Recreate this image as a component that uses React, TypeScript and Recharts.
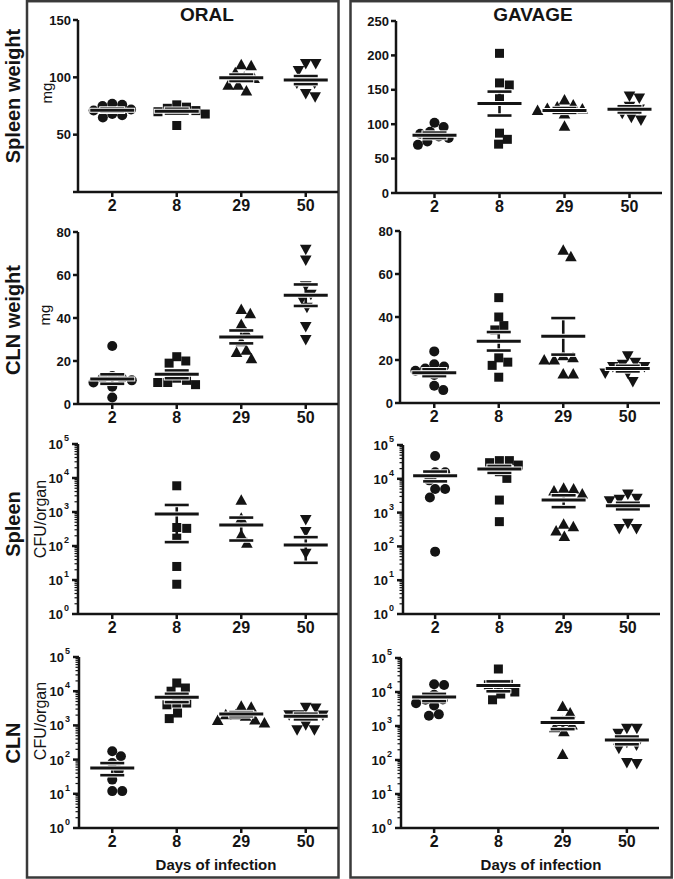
import React from 'react';
import { ScatterChart, Scatter, XAxis, YAxis } from 'recharts';

const days = ['2', '8', '29', '50'];

// organ weights, mg (one list per day of infection)
const spleenWtOral = [
  [76, 75, 77, 72, 71, 67, 65, 68],
  [74, 71, 73, 76, 68, 70, 58],
  [111, 110, 104, 100, 99, 93, 93, 88],
  [112, 112, 106, 99, 95, 95, 86, 83],
];
const spleenWtOralMean = [71.4, 70.5, 99.6, 97.6];
const spleenWtOralSem = [1.4, 2.1, 2.8, 3.5];

const spleenWtGavage = [
  [96, 102, 89, 86, 82, 80, 75, 70],
  [203, 160, 157, 137, 87, 78, 71],
  [135, 128, 125, 123, 122, 120, 115, 97],
  [138, 141, 126, 122, 116, 110, 106],
];
const spleenWtGavageMean = [83.8, 130, 120, 121.6];
const spleenWtGavageSem = [4, 17.4, 3.5, 4.5];

const clnWtOral = [
  [27, 13, 12, 12, 11, 10, 8, 3],
  [22, 20, 19, 12, 11, 10, 10, 9],
  [44, 42, 37, 33, 29, 25, 24, 21],
  [72, 67, 55, 51, 49, 45, 36, 30],
];
const clnWtOralMean = [11.6, 13.8, 31.2, 50.6];
const clnWtOralSem = [2.2, 1.8, 3, 5];

const clnWtGavage = [
  [24, 18, 17, 16, 15, 13, 8, 6],
  [49, 40, 36, 34, 21, 19, 17.5, 12],
  [68, 71, 22, 20, 20, 21, 13.5, 13.5],
  [22, 19, 18, 17, 17, 14, 14, 10],
];
const clnWtGavageMean = [14.1, 28.7, 31, 16];
const clnWtGavageSem = [1.6, 4.3, 8.5, 1.3];

// CFU per organ
const spleenCfuOral = [
  [],
  [5900, 350, 330, 170, 25, 7.5],
  [2200, 650, 210, 120],
  [600, 265, 61],
];
const spleenCfuOralMean = [null, 870, 415, 107];
const spleenCfuOralSem = [null, 740, 270, 75];

const spleenCfuGavage = [
  [47000, 15600, 15600, 9000, 5000, 5000, 2800, 70],
  [34500, 30000, 25500, 34500, 16200, 10300, 2350, 540],
  [5000, 3560, 4350, 5250, 383, 450, 287, 195],
  [2650, 3560, 2470, 2240, 480, 340, 340],
];
const spleenCfuGavageMean = [12400, 19500, 2350, 1600];
const spleenCfuGavageSem = [4000, 4500, 900, 350];

const clnCfuOral = [
  [175, 125, 80, 48, 26, 12, 12],
  [17400, 10000, 12400, 4500, 4000, 4500, 2300, 1580],
  [3370, 3600, 2050, 2050, 1850, 1380, 1450, 1170],
  [3200, 3400, 2050, 2000, 2050, 1050, 750, 750],
];
const clnCfuOralMean = [57, 6600, 2150, 1850];
const clnCfuOralSem = [22, 1800, 300, 350];

const clnCfuGavage = [
  [17000, 16000, 8300, 6000, 5900, 4700, 4000, 2200, 2000],
  [47500, 16300, 16800, 16800, 10000, 8700, 5900],
  [3750, 2400, 1350, 1070, 890, 680, 146],
  [855, 855, 610, 275, 220, 330, 79, 85],
];
const clnCfuGavageMean = [7100, 15500, 1260, 390];
const clnCfuGavageSem = [1700, 5000, 450, 100];

const ink = '#141414';
const frame = '#3a3a3a';
const font = '"Liberation Sans", Arial, sans-serif';

const logTicks: number[] = [];
for (let k = 0; k < 5; k++) for (let m = 1; m < 10; m++) logTicks.push(m * Math.pow(10, k));
logTicks.push(100000);

// spread overlapping dots sideways (simple beeswarm, in pixels)
function swarm(values: number[], toPx: (v: number) => number, d: number) {
  const placed: { x: number; y: number }[] = [];
  const out = new Array(values.length).fill(0);
  const order = values.map((_, i) => i).sort((a, b) => values[b] - values[a]);
  for (const i of order) {
    const y = toPx(values[i]);
    const near = placed.filter((p) => Math.abs(p.y - y) < d);
    const cands = [0];
    near.forEach((p) => {
      const s = Math.sqrt(d * d - (p.y - y) * (p.y - y));
      cands.push(p.x + s, p.x - s);
    });
    cands.sort((a, b) => Math.abs(a) - Math.abs(b));
    const ok = cands.find((c) => near.every((p) => (p.x - c) ** 2 + (p.y - y) ** 2 >= d * d - 0.01));
    out[i] = ok ?? 0;
    placed.push({ x: out[i], y });
  }
  return out;
}

const markerShape = (kind: number) => (props: any) => {
  const { cx, cy, payload } = props;
  const x = cx + (payload.dx || 0);
  if (kind === 0) return <circle cx={x} cy={cy} r={5} fill={ink} />;
  if (kind === 1) return <rect x={x - 4.5} y={cy - 4.5} width={9} height={9} fill={ink} />;
  if (kind === 2)
    return <path d={`M${x},${cy - 6}L${x + 5.8},${cy + 4.5}L${x - 5.8},${cy + 4.5}Z`} fill={ink} />;
  return <path d={`M${x},${cy + 6}L${x + 5.8},${cy - 4.5}L${x - 5.8},${cy - 4.5}Z`} fill={ink} />;
};

const MeanLine = (props: any) => {
  const { cx, cy } = props;
  return (
    <g>
      <line x1={cx - 23} x2={cx + 23} y1={cy} y2={cy} stroke="#fff" strokeWidth={5} />
      <line x1={cx - 22} x2={cx + 22} y1={cy} y2={cy} stroke={ink} strokeWidth={3} />
    </g>
  );
};

const SemCap = (props: any) => {
  const { cx, cy } = props;
  return (
    <g>
      <line x1={cx - 13} x2={cx + 13} y1={cy} y2={cy} stroke="#fff" strokeWidth={4.5} />
      <line x1={cx - 12} x2={cx + 12} y1={cy} y2={cy} stroke={ink} strokeWidth={2.6} />
    </g>
  );
};

const LogTick = (props: any) => {
  const { x, y, payload } = props;
  const lg = Math.log10(payload.value);
  const e = Math.round(lg);
  const major = Math.abs(lg - e) < 1e-6;
  return (
    <g>
      <line x1={x} x2={x - (major ? 6 : 3.5)} y1={y} y2={y} stroke={ink} strokeWidth={major ? 2.5 : 1.2} />
      {major && (
        <text x={x - 9} y={y + 5} textAnchor="end" fill={ink} fontSize={13} fontWeight="bold">
          10<tspan dx={1} dy={-8} fontSize={9}>{e}</tspan>
        </text>
      )}
    </g>
  );
};

type Geo = { axisX: number; top: number; bottom: number; right: number; padL: number };

const layout: Record<string, Geo> = {
  L1: { axisX: 78, top: 20, bottom: 192, right: 338, padL: 2 },
  R1: { axisX: 396, top: 21, bottom: 193, right: 662, padL: 6 },
  L2: { axisX: 78, top: 232, bottom: 404, right: 338, padL: 2 },
  R2: { axisX: 400, top: 231, bottom: 403, right: 660, padL: 2 },
  L3: { axisX: 78, top: 444, bottom: 614, right: 338, padL: 2 },
  R3: { axisX: 403, top: 445, bottom: 614, right: 660, padL: 0 },
  L4: { axisX: 79, top: 657, bottom: 828, right: 338, padL: 1 },
  R4: { axisX: 401, top: 658, bottom: 828, right: 659, padL: 1 },
};

type PanelProps = {
  geo: Geo;
  pts: number[][];
  mean: (number | null)[];
  sem: (number | null)[];
  log?: boolean;
  domain?: [number, number];
  ticks?: number[];
  hideZero?: boolean;
};

function Panel({ geo, pts, mean, sem, log, domain = [0, 1], ticks, hideZero }: PanelProps) {
  const H = geo.bottom - geo.top;
  const W = geo.right - geo.axisX;
  const LEFT = 60;
  const TOP = 12;
  const XH = 30;
  const toPx = log
    ? (v: number) => (Math.log10(v) / 5) * H
    : (v: number) => ((v - domain[0]) / (domain[1] - domain[0])) * H;
  const series = pts.map((vals, i) => {
    const dx = swarm(vals, toPx, 10);
    return vals.map((v, j) => ({ x: i, y: v, dx: dx[j] }));
  });
  const meanData = mean
    .map((m, i) => (m == null ? null : { x: i, y: m }))
    .filter((d) => d != null);
  // one two-point series per group: mean - sem to mean + sem
  const semData = mean
    .map((m, i) =>
      m == null || sem[i] == null
        ? null
        : [
            { x: i, y: m - (sem[i] as number) },
            { x: i, y: m + (sem[i] as number) },
          ],
    )
    .filter((d) => d != null) as { x: number; y: number }[][];
  const axisStyle = { stroke: ink, strokeWidth: 2.5 };

  return (
    <div style={{ position: 'absolute', left: geo.axisX - LEFT, top: geo.top - TOP }}>
      <ScatterChart
        width={W + LEFT + 4}
        height={H + TOP + XH}
        margin={{ top: TOP, right: 4, bottom: 0, left: 0 }}
      >
        <XAxis
          type="number"
          dataKey="x"
          domain={[-0.5, 3.5]}
          ticks={[0, 1, 2, 3]}
          interval={0}
          tickFormatter={(i: number) => days[i]}
          padding={{ left: geo.padL, right: 0 }}
          height={XH}
          axisLine={axisStyle}
          tickLine={axisStyle}
          tickSize={5}
          tickMargin={3}
          tick={{ fill: ink, fontSize: 16, fontWeight: 'bold' }}
          allowDataOverflow
        />
        {log ? (
          <YAxis
            type="number"
            dataKey="y"
            scale="log"
            domain={[1, 100000]}
            ticks={logTicks}
            interval={0}
            width={LEFT}
            axisLine={axisStyle}
            tickLine={false}
            tickSize={0}
            tickMargin={0}
            tick={(p: any) => <LogTick {...p} />}
            allowDataOverflow
          />
        ) : (
          <YAxis
            type="number"
            dataKey="y"
            domain={domain}
            ticks={ticks}
            interval={0}
            width={LEFT}
            axisLine={axisStyle}
            tickLine={axisStyle}
            tickSize={5}
            tickMargin={2}
            tickFormatter={(v: number) => (hideZero && v === 0 ? '' : String(v))}
            tick={{ fill: ink, fontSize: 13, fontWeight: 'bold' }}
            allowDataOverflow
          />
        )}
        {series.map((data, i) => (
          <Scatter key={`p${i}`} data={data} shape={markerShape(i)} isAnimationActive={false} />
        ))}
        {semData.map((data, i) => (
          <Scatter
            key={`s${i}`}
            data={data}
            shape={SemCap}
            line={{ stroke: ink, strokeWidth: 2.6 }}
            isAnimationActive={false}
          />
        ))}
        <Scatter data={meanData} shape={MeanLine} isAnimationActive={false} />
      </ScatterChart>
    </div>
  );
}

const RotLabel = ({ x, y, text, size, bold }: { x: number; y: number; text: string; size: number; bold?: boolean }) => (
  <text
    x={x}
    y={y}
    transform={`rotate(-90 ${x} ${y})`}
    textAnchor="middle"
    dominantBaseline="central"
    fontSize={size}
    fontWeight={bold ? 'bold' : 'normal'}
    fill={ink}
  >
    {text}
  </text>
);

export default function App() {
  return (
    <div
      style={{
        position: 'absolute',
        left: 0,
        top: 0,
        width: 674,
        height: 879,
        background: '#fff',
        fontFamily: font,
      }}
    >
      <svg width={674} height={879} style={{ position: 'absolute', left: 0, top: 0 }} fontFamily={font}>
        <rect x={27} y={1.2} width={311.5} height={876.3} fill="none" stroke={frame} strokeWidth={2.5} />
        <rect x={350.5} y={1.2} width={321.2} height={876.3} fill="none" stroke={frame} strokeWidth={2.5} />
        <text x={207} y={14} textAnchor="middle" dominantBaseline="central" fontSize={19} fontWeight="bold" fill={ink}>
          ORAL
        </text>
        <text x={533} y={14} textAnchor="middle" dominantBaseline="central" fontSize={19} fontWeight="bold" fill={ink}>
          GAVAGE
        </text>
        <RotLabel x={13} y={96} text="Spleen weight" size={20} bold />
        <RotLabel x={13} y={320} text="CLN weight" size={20} bold />
        <RotLabel x={13} y={524} text="Spleen" size={20} bold />
        <RotLabel x={13} y={743} text="CLN" size={20} bold />
        <RotLabel x={46} y={93} text="mg" size={15} />
        <RotLabel x={44} y={315} text="mg" size={15} />
        <RotLabel x={40} y={519} text="CFU/organ" size={16} />
        <RotLabel x={40} y={721} text="CFU/organ" size={16} />
        <text x={216} y={864} textAnchor="middle" dominantBaseline="central" fontSize={15} fontWeight="bold" fill={ink}>
          Days of infection
        </text>
        <text x={541} y={864} textAnchor="middle" dominantBaseline="central" fontSize={15} fontWeight="bold" fill={ink}>
          Days of infection
        </text>
      </svg>

      <Panel geo={layout.L1} pts={spleenWtOral} mean={spleenWtOralMean} sem={spleenWtOralSem} domain={[0, 150]} ticks={[0, 50, 100, 150]} hideZero />
      <Panel geo={layout.R1} pts={spleenWtGavage} mean={spleenWtGavageMean} sem={spleenWtGavageSem} domain={[0, 250]} ticks={[0, 50, 100, 150, 200, 250]} />
      <Panel geo={layout.L2} pts={clnWtOral} mean={clnWtOralMean} sem={clnWtOralSem} domain={[0, 80]} ticks={[0, 20, 40, 60, 80]} />
      <Panel geo={layout.R2} pts={clnWtGavage} mean={clnWtGavageMean} sem={clnWtGavageSem} domain={[0, 80]} ticks={[0, 20, 40, 60, 80]} />
      <Panel geo={layout.L3} pts={spleenCfuOral} mean={spleenCfuOralMean} sem={spleenCfuOralSem} log />
      <Panel geo={layout.R3} pts={spleenCfuGavage} mean={spleenCfuGavageMean} sem={spleenCfuGavageSem} log />
      <Panel geo={layout.L4} pts={clnCfuOral} mean={clnCfuOralMean} sem={clnCfuOralSem} log />
      <Panel geo={layout.R4} pts={clnCfuGavage} mean={clnCfuGavageMean} sem={clnCfuGavageSem} log />
    </div>
  );
}
